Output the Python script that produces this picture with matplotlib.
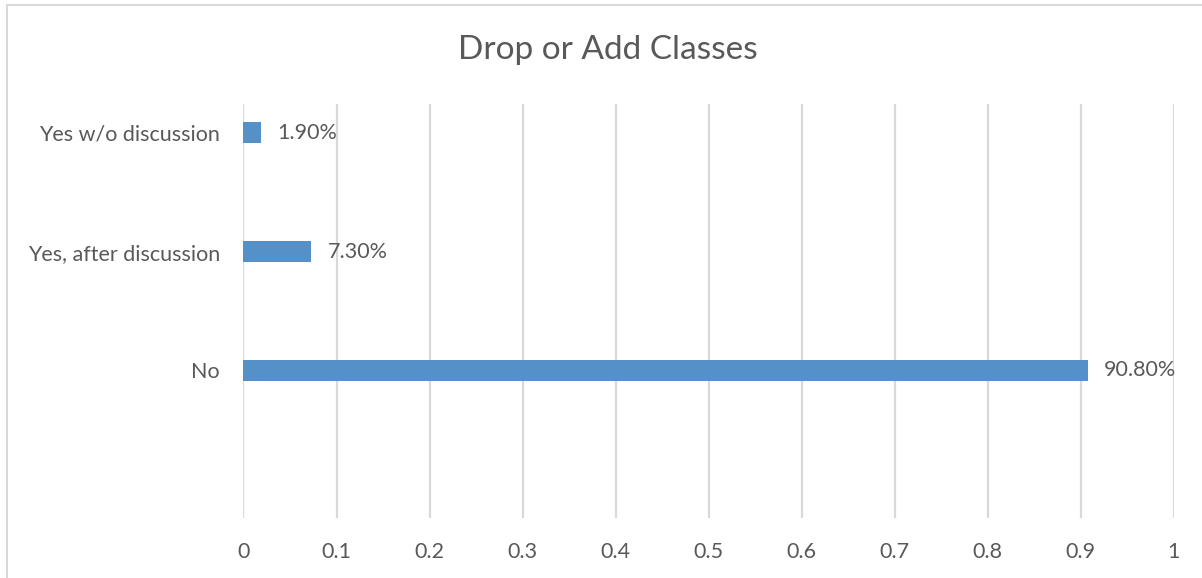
import matplotlib
matplotlib.use("Agg")
import matplotlib.pyplot as plt
from matplotlib.patches import Rectangle

categories = ["No", "Yes, after discussion", "Yes w/o discussion"]
shares = [0.908, 0.073, 0.019]
labels = ["90.80%", "7.30%", "1.90%"]
xticks = [0, 0.1, 0.2, 0.3, 0.4, 0.5, 0.6, 0.7, 0.8, 0.9, 1]

TXT = "#595959"
BAR = "#5590c8"
GRID = "#d9d9d9"
plt.rcParams["font.family"] = ["Lato", "DejaVu Sans"]

W, H = 1202, 578
fig = plt.figure(figsize=(W / 100, H / 100), dpi=100)
# plot area in pixels: x 243.5..1173.5, y 104..518
ax = fig.add_axes([243.5 / W, 1 - 518 / H, 930 / W, 414 / H])

ypos = list(range(len(categories)))
ax.barh(ypos, shares, height=0.177, color=BAR, zorder=3)
for y, v, s in zip(ypos, shares, labels):
    ax.annotate(s, (v, y), xytext=(16, 0), textcoords="offset pixels",
                va="center", ha="left", fontsize=15.5, color=TXT)

ax.set_xlim(0, 1)
ax.set_ylim(-1.242, 2.244)
ax.set_xticks(xticks)
ax.set_xticklabels([f"{t:g}" for t in xticks])
ax.set_yticks(ypos)
ax.set_yticklabels(categories)
ax.tick_params(axis="both", length=0, labelsize=15.5, labelcolor=TXT)
ax.tick_params(axis="x", pad=17)
ax.tick_params(axis="y", pad=17)
ax.grid(axis="x", color=GRID, lw=1.6, zorder=0)
for sp in ax.spines.values():
    sp.set_visible(False)

fig.text(608 / W, 1 - 50 / H, "Drop or Add Classes", ha="center", va="center",
         fontsize=24, color=TXT)

# chart frame
fig.patches.append(Rectangle((7 / W, -0.1), 1.2, 1 - 5 / H + 0.1,
                             transform=fig.transFigure, fill=False,
                             ec=GRID, lw=1.5))

fig.savefig("out.png", dpi=100)
